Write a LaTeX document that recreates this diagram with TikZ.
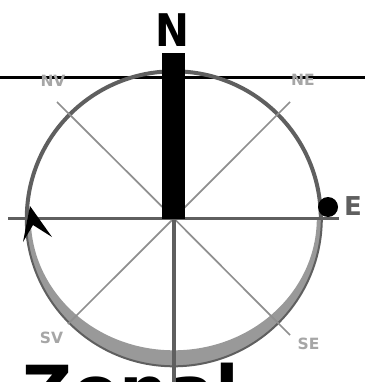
\documentclass[tikz,border=0pt]{standalone}
\usepackage{fontspec}
\setmainfont{DejaVu Sans}
\definecolor{ringc}{HTML}{5F5F5F}
\definecolor{diagc}{HTML}{8F8F8F}
\definecolor{lblc}{HTML}{A6A6A6}
\definecolor{crescentc}{HTML}{999999}
\begin{document}
\begin{tikzpicture}[x=1pt,y=-1pt,
  upperring/.style={draw=ringc,line width=4pt},
  lowerring/.style={draw=ringc,line width=2pt},
  diagline/.style={draw=diagc,line width=1.7pt},
  axisline/.style={draw=ringc,line width=3pt},
  dirlabel/.style={text=lblc,font=\bfseries\fontsize{15.5}{15.5}\selectfont,inner sep=0pt},
  biglabel/.style={text=black,font=\bfseries\fontsize{45}{45}\selectfont,inner sep=0pt}]
\useasboundingbox (0,0) rectangle (365,382);
\begin{scope}
\clip (0,0) rectangle (365,382);
\coordinate (C) at (173.8,218.3);
\coordinate (nv) at (57,102);
\coordinate (ne) at (290,102);
\coordinate (sv) at (68,324);
\coordinate (se) at (290,335);
\coordinate (wend) at (8,218.5);
\coordinate (eend) at (339,218.5);
\coordinate (send) at (173.8,382);
\coordinate (hl) at (0,77.5);
\coordinate (hr) at (365,77.5);
\node[anchor=base west,inner sep=0pt,font=\bfseries\fontsize{69}{69}\selectfont] (zonal) at (22,415) {Zonal};
\draw[draw=lblc,line width=1pt] (0,78.8) -- (365,78.8);
\draw[black,line width=2.4pt] (hl) -- (hr);
\fill[crescentc] (25.8,218.3) arc[start angle=180,end angle=0,x radius=148,y radius=148]
  -- (316.8,218.3) arc[start angle=0,end angle=180,x radius=143,y radius=132] -- cycle;
\draw[upperring] (26.8,218.3) arc[start angle=180,end angle=360,x radius=147,y radius=147];
\draw[lowerring] (25.8,218.3) arc[start angle=180,end angle=0,x radius=148,y radius=148];
\draw[diagline] (C) -- (nv);
\draw[diagline] (C) -- (ne);
\draw[diagline] (C) -- (sv);
\draw[diagline] (C) -- (se);
\draw[axisline] (wend) -- (eend);
\draw[axisline,line width=3.5pt] (C) -- (send);
\fill[black] (162,53) rectangle (185,219);
\node[biglabel,anchor=base,xscale=0.9] (n) at (172.5,47) {N};
\node[dirlabel,anchor=base] (nvl) at (53,87) {NV};
\node[dirlabel,anchor=base] (nel) at (303,86) {NE};
\node[dirlabel,anchor=base] (svl) at (51.5,343) {SV};
\node[dirlabel,anchor=base] (sel) at (308.5,349) {SE};
\node[text=ringc,font=\bfseries\fontsize{26}{26}\selectfont,inner sep=0pt,anchor=base] (el) at (353,215.5) {E};
\fill[black] (328,207) circle[radius=10];
\fill[black] (30,206) -- (52,237) -- (33,225) -- (23,242) -- cycle;
\end{scope}
\end{tikzpicture}
\end{document}
